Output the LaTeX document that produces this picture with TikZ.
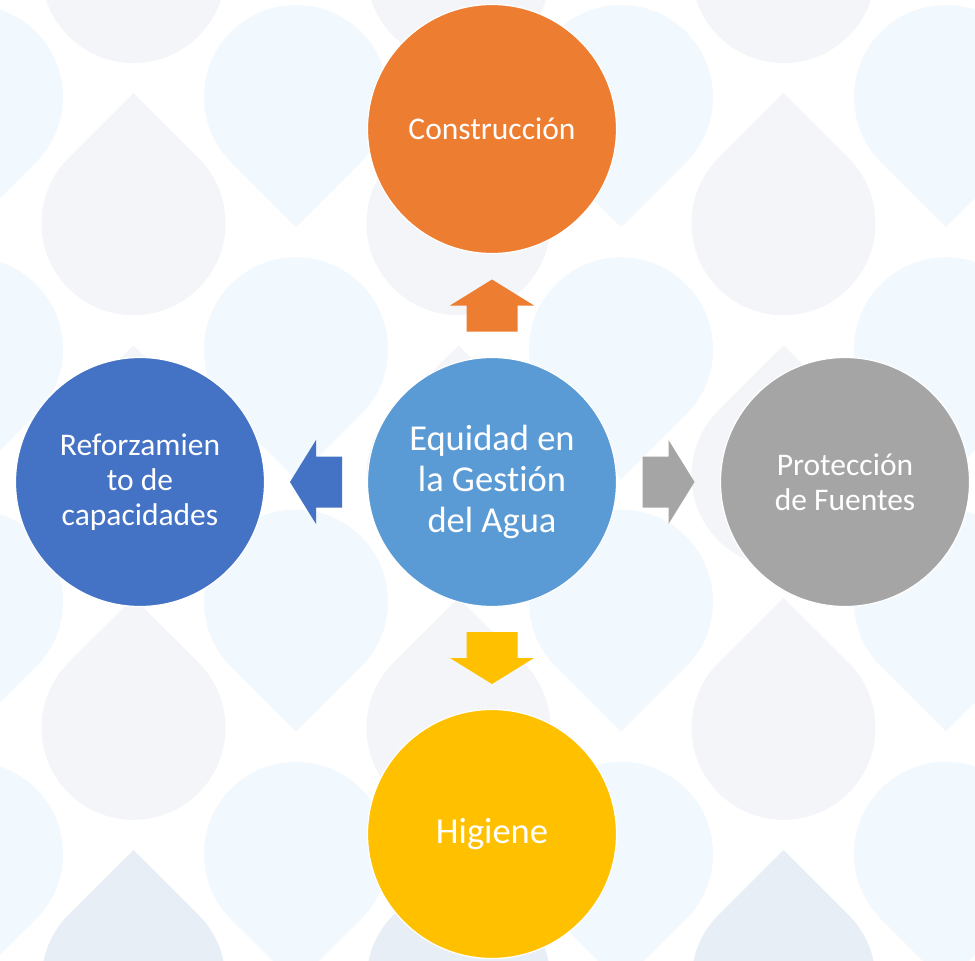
\documentclass[tikz,border=0pt]{standalone}
\usepackage{fontspec}
\setmainfont{Carlito}[Ligatures={NoCommon}]
\usetikzlibrary{calc}
\definecolor{cOrange}{HTML}{ED7D31}
\definecolor{cCenter}{HTML}{5B9BD5}
\definecolor{cBlue}{HTML}{4472C4}
\definecolor{cGray}{HTML}{A5A5A5}
\definecolor{cYellow}{HTML}{FFC000}
\definecolor{dropBlue}{RGB}{241,248,254}
\definecolor{dropGray}{RGB}{243,245,249}
\definecolor{dropDark}{RGB}{232,238,246}
\newcommand\DropUp[3]{\fill[#3] (#1,#2-130) -- (#1+65.05,#2-65.05) arc[start angle=-45,end angle=225,radius=92] -- cycle;}
\newcommand\DropDown[3]{\fill[#3] (#1,#2+130) -- (#1+65.05,#2+65.05) arc[start angle=45,end angle=-225,radius=92] -- cycle;}
\newcommand\BlockArrow[3]{\fill[#3, shift={(#1)}, rotate=#2] (26,0) -- (0,42) -- (0,25.5) -- (-26,25.5) -- (-26,-25.5) -- (0,-25.5) -- (0,-42) -- cycle;}
\tikzset{
  bubble/.style={circle, minimum size=249pt, inner sep=0pt, draw=white, line width=1.2pt, text=white, align=center},
  outertext/.style={font=\fontsize{31.5}{35}\selectfont},
  bigtext/.style={font=\fontsize{36.5}{41}\selectfont}
}
\begin{document}
\begin{tikzpicture}[x=1pt,y=-1pt]
\clip (0,0) rectangle (975,961);
\fill[white] (0,0) rectangle (975,961);
% background drops
\foreach \xx in {-29,296,621,946}{
  \foreach \yy in {97,349.3,601.6,853.9}{\DropDown{\xx}{\yy}{dropBlue}}
}
\foreach \xx in {133.5,458.5,783.5}{
  \foreach \yy in {-29,223.2,475.5,727.8}{\DropUp{\xx}{\yy}{dropGray}}
  \DropUp{\xx}{980}{dropDark}
}
% circles
\node[bubble, fill=cCenter, bigtext] (c) at (492,482) {Equidad en\\la Gestión\\del Agua};
\node[bubble, fill=cOrange, outertext] (con) at (492,129) {Construcción};
\node[bubble, fill=cBlue, outertext] (ref) at (140,482) {Reforzamien\\to de\\capacidades};
\node[bubble, fill=cGray, outertext] (pro) at (845,482) {Protección\\de Fuentes};
\node[bubble, fill=cYellow, bigtext] (hig) at (492,834) {Higiene};
% block arrows between the centre and each outer circle
\coordinate (mup) at ($(c.north)!0.5!(con.south)$);
\coordinate (mdown) at ($(c.south)!0.5!(hig.north)$);
\coordinate (mleft) at ($(c.west)!0.5!(ref.east)$);
\coordinate (mright) at ($(c.east)!0.5!(pro.west)$);
\BlockArrow{mup}{90}{cOrange}
\BlockArrow{mdown}{270}{cYellow}
\BlockArrow{mleft}{180}{cBlue}
\BlockArrow{mright}{0}{cGray}
\end{tikzpicture}
\end{document}
